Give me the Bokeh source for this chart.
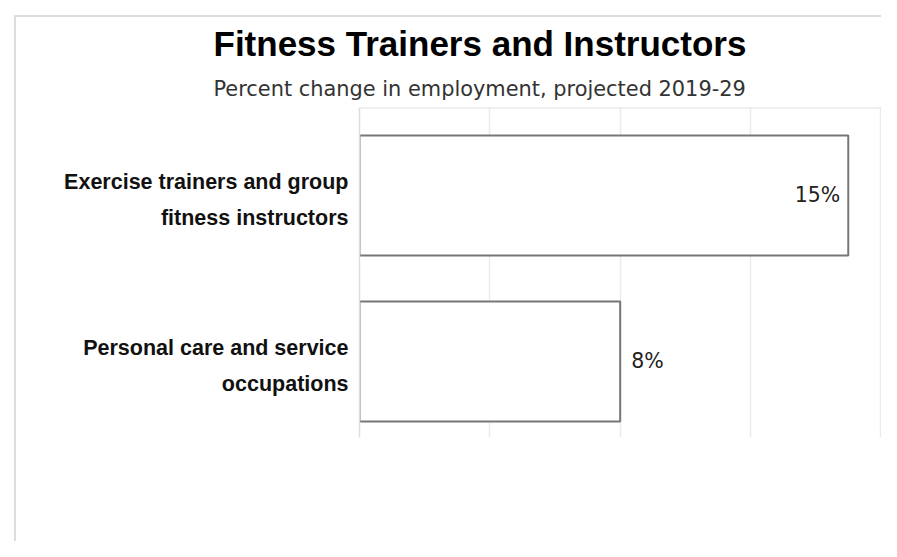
from bokeh.plotting import figure
from bokeh.models import ColumnDataSource, Range1d, LabelSet, Title, FixedTicker, Grid, Span
from bokeh.core.properties import value
from bokeh.embed import file_html
from bokeh.resources import INLINE

# ---- data ----
title = "Fitness Trainers and Instructors"
subtitle = "Percent change in employment, projected 2019-29"
categories = ["Exercise trainers and group\nfitness instructors",
              "Personal care and service\noccupations"]
values = [15, 8]
value_labels = ["15%", "8%"]
x_ticks = [0, 4, 8, 12, 16]

# ---- derived table ----
n = len(categories)
ypos = [n - 1 - i for i in range(n)]
inside = [v > 12 for v in values]
src = ColumnDataSource(dict(y=ypos, v=values, zero=[0] * n))


def subset(flag):
    return ColumnDataSource(dict(
        y=[y for y, k in zip(ypos, inside) if k == flag],
        v=[v for v, k in zip(values, inside) if k == flag],
        lab=[l for l, k in zip(value_labels, inside) if k == flag],
    ))


frame_line = "linear-gradient(#dddddd, #dddddd)"
y_top = 1.53
p = figure(width=881, height=541,
           x_range=Range1d(0, 16.02), y_range=Range1d(-0.458, y_top),
           output_backend="svg", toolbar_location=None,
           x_axis_location=None, y_axis_location="left",
           min_border_left=359, min_border_right=0,
           min_border_top=107, min_border_bottom=104,
           styles={"background": f"{frame_line} 14px 15px / 2px 100% no-repeat, "
                                 f"{frame_line} 14px 15px / 100% 2px no-repeat"})

p.border_fill_color = None
p.background_fill_color = None
p.outline_line_color = None
p.center = [r for r in p.center if not isinstance(r, Grid)]
p.add_layout(Grid(dimension=0, ticker=FixedTicker(ticks=x_ticks),
                  grid_line_color="#ebebeb", grid_line_width=1.5))
p.add_layout(Span(location=y_top, dimension="width",
                  line_color="#e2e2e2", line_width=2))

label_shift = -0.03  # nudge the two-line category labels down a few pixels
tick_pos = [round(y + label_shift, 2) for y in ypos]
p.yaxis.ticker = FixedTicker(ticks=tick_pos)
p.yaxis.major_label_overrides = {t: c for t, c in zip(tick_pos, categories)}
p.yaxis.major_tick_line_color = None
p.yaxis.minor_tick_line_color = None
p.yaxis.axis_line_color = "#dddddd"
p.yaxis.axis_line_width = 1.5
p.yaxis.major_label_standoff = 5
p.yaxis.major_label_text_font = "Liberation Sans"
p.yaxis.major_label_text_font_style = "bold"
p.yaxis.major_label_text_font_size = "21.5px"
p.yaxis.major_label_text_color = "#111111"
p.yaxis.major_label_text_line_height = 1.5

p.hbar(y="y", left="zero", right="v", height=0.723, source=src,
       fill_color="white", line_color="#777777", line_width=2)

p.add_layout(LabelSet(x="v", y="y", text="lab", source=subset(True),
                      x_offset=-8, text_align="right", text_baseline="middle",
                      text_font=value("DejaVu Sans"), text_font_size="20.5px",
                      text_color="#222222"))
p.add_layout(LabelSet(x="v", y="y", text="lab", source=subset(False),
                      x_offset=11, text_align="left", text_baseline="middle",
                      text_font=value("DejaVu Sans"), text_font_size="20.5px",
                      text_color="#222222"))

p.add_layout(Title(text=subtitle, align="left", offset=-146, standoff=14,
                   text_font="DejaVu Sans", text_font_style="normal",
                   text_font_size="20.9px", text_color="#333333"), "above")
p.add_layout(Title(text=title, align="left", offset=-146,
                   text_font="Liberation Sans", text_font_style="bold",
                   text_font_size="35px", text_color="#000000"), "above")

open("out.html", "w").write(file_html(p, INLINE))
